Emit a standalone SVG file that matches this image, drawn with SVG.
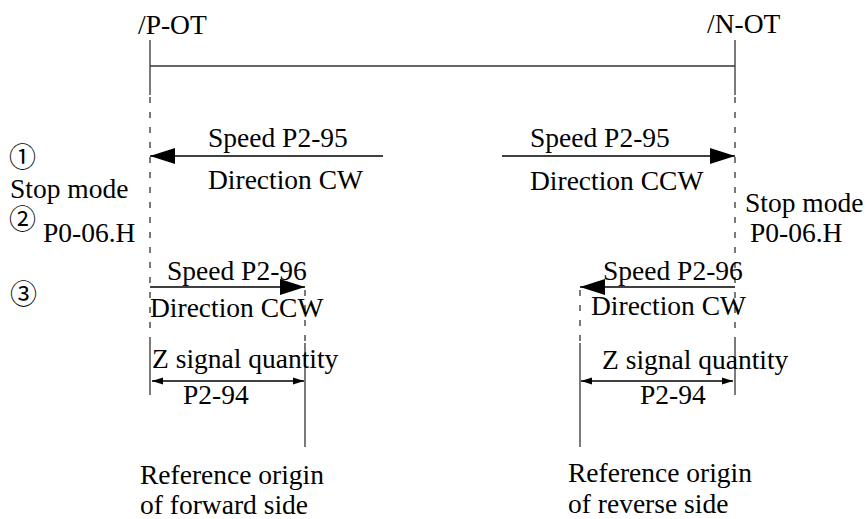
<svg xmlns="http://www.w3.org/2000/svg" width="868" height="519" viewBox="0 0 868 519">
<style>
text.t{font-family:'Liberation Serif','Times New Roman','DejaVu Serif',serif;font-size:27.5px;fill:#000}
text.c{font-family:'Noto Sans CJK JP','DejaVu Sans',sans-serif;font-size:27px;fill:#000}
.s{stroke:#333;stroke-width:1.3;fill:none}
.d{stroke:#333;stroke-width:1.3;fill:none;stroke-dasharray:6 9}
.a{stroke:#000;stroke-width:1.5;fill:none}
</style>
<defs>
<marker id="big" markerUnits="userSpaceOnUse" markerWidth="26" markerHeight="16" refX="25" refY="8" orient="auto">
<path d="M0,0 L25,8 L0,16 Z" fill="#000"/>
</marker>
<marker id="sm" markerUnits="userSpaceOnUse" markerWidth="12" markerHeight="8" refX="11" refY="4" orient="auto-start-reverse">
<path d="M0,0.5 L11,4 L0,7.5 Z" fill="#000"/>
</marker>
</defs>
<g id="connectors">
<line class="s" x1="150" y1="40" x2="150" y2="95"/>
<line class="s" x1="150" y1="66" x2="735" y2="66"/>
<line class="s" x1="735" y1="40" x2="735" y2="95"/>
<line class="d" x1="150" y1="97" x2="150" y2="343"/>
<line class="d" x1="735" y1="97" x2="735" y2="343"/>
<line class="s" x1="150" y1="343" x2="150" y2="395"/>
<line class="s" x1="735" y1="343" x2="735" y2="395"/>
<line class="d" x1="305" y1="290" x2="305" y2="343"/>
<line class="d" x1="580" y1="290" x2="580" y2="343"/>
<line class="s" x1="305" y1="343" x2="305" y2="447"/>
<line class="s" x1="580" y1="343" x2="580" y2="447"/>
<line class="a" x1="383" y1="156" x2="150" y2="156" marker-end="url(#big)"/>
<line class="a" x1="502" y1="156" x2="735" y2="156" marker-end="url(#big)"/>
<line class="a" x1="150" y1="287" x2="305" y2="287" marker-end="url(#big)"/>
<line class="a" x1="735" y1="287" x2="580" y2="287" marker-end="url(#big)"/>
<line class="a" x1="152" y1="381" x2="304" y2="381" marker-start="url(#sm)" marker-end="url(#sm)"/>
<line class="a" x1="581" y1="381" x2="733" y2="381" marker-start="url(#sm)" marker-end="url(#sm)"/>
</g>
<g id="p-ot"><text class="t" x="138" y="34">/P-OT</text></g>
<g id="n-ot"><text class="t" x="707" y="33">/N-OT</text></g>
<g id="step1-left"><text class="t" x="208" y="147">Speed P2-95</text><text class="t" x="208" y="189">Direction CW</text></g>
<g id="step1-right"><text class="t" x="530" y="147">Speed P2-95</text><text class="t" x="530" y="190">Direction CCW</text></g>
<g id="labels-left">
<text class="c" x="9" y="167">①</text>
<text class="t" x="10" y="198">Stop mode</text>
<text class="c" x="9" y="229">②</text>
<text class="t" x="43" y="242">P0-06.H</text>
<text class="c" x="10" y="304">③</text>
</g>
<g id="stop-right"><text class="t" x="745" y="212">Stop mode</text><text class="t" x="750" y="242">P0-06.H</text></g>
<g id="step3-left"><text class="t" x="167" y="280">Speed P2-96</text><text class="t" x="150" y="317">Direction CCW</text></g>
<g id="step3-right"><text class="t" x="603" y="280">Speed P2-96</text><text class="t" x="591" y="315">Direction CW</text></g>
<g id="z-left"><text class="t" x="152" y="368">Z signal quantity</text><text class="t" x="183" y="404">P2-94</text></g>
<g id="z-right"><text class="t" x="602" y="369">Z signal quantity</text><text class="t" x="640" y="404">P2-94</text></g>
<g id="origin-forward"><text class="t" x="140" y="484">Reference origin</text><text class="t" x="140" y="514">of forward side</text></g>
<g id="origin-reverse"><text class="t" x="568" y="482">Reference origin</text><text class="t" x="568" y="513">of reverse side</text></g>
</svg>
